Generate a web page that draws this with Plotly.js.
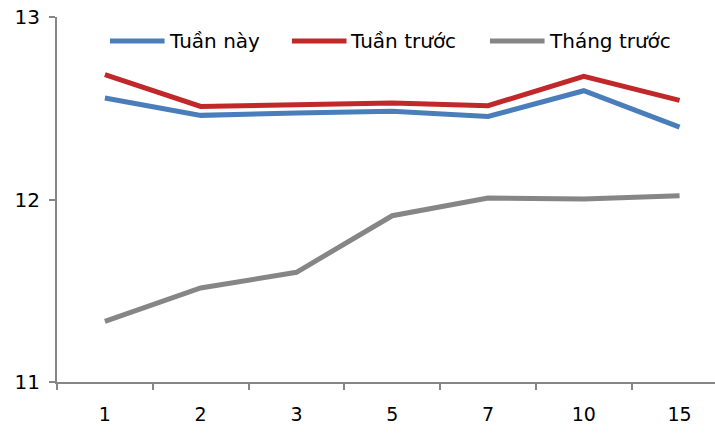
<!DOCTYPE html>
<html><head><meta charset="utf-8">
<script src="https://cdn.plot.ly/plotly-3.0.1.min.js"></script>
<style>html,body{margin:0;padding:0;background:#fff}#chart{width:715px;height:433px}</style>
</head><body><div id="chart"></div>
<script>
const categories = ["1","2","3","5","7","10","15"];
const seriesNames = ["Tuần này", "Tuần trước", "Tháng trước"];
const tuanNay = [12.556, 12.461, 12.474, 12.483, 12.455, 12.596, 12.397];
const tuanTruoc = [12.684, 12.510, 12.519, 12.529, 12.514, 12.675, 12.543];
const thangTruoc = [11.332, 11.515, 11.601, 11.911, 12.008, 12.003, 12.021];
const yTicks = [11, 12, 13];
const colors = ["#4a7ebb", "#c0282a", "#868686"];

const fam = "DejaVu Sans, Verdana, sans-serif";
const mk = (name, y, color) => ({type: "scatter", mode: "lines", name, x: categories, y,
  line: {color, width: 5}, showlegend: false});
const data = [
  mk(seriesNames[0], tuanNay, colors[0]),
  mk(seriesNames[1], tuanTruoc, colors[1]),
  mk(seriesNames[2], thangTruoc, colors[2])
];

// manual legend (long line samples like the original)
const legX = [0.0805, 0.357, 0.658];
const legY = 0.934;
const shapes = legX.map((x0, i) => ({type: "line", xref: "paper", yref: "paper",
  x0, x1: x0 + 0.083, y0: legY, y1: legY, line: {color: colors[i], width: 5}}));
const annotations = legX.map((x0, i) => ({xref: "paper", yref: "paper", x: x0 + 0.086, y: legY,
  xanchor: "left", yanchor: "middle", showarrow: false, text: seriesNames[i],
  font: {family: fam, size: 20, color: "#000"}}));

const layout = {
  width: 715, height: 433,
  margin: {l: 57, r: 0, t: 17, b: 51},
  paper_bgcolor: "#fff", plot_bgcolor: "#fff",
  font: {family: fam, size: 19, color: "#000"},
  showlegend: false,
  shapes, annotations,
  xaxis: {type: "category", categoryorder: "array", categoryarray: categories,
    range: [-0.5, 6.37], showgrid: false, zeroline: false,
    showline: true, linecolor: "#868686", linewidth: 2,
    ticks: "outside", tickson: "boundaries", ticklen: 6, tickcolor: "#868686", tickwidth: 2,
    tickfont: {family: fam, size: 19, color: "#000"}, ticklabelstandoff: 14},
  yaxis: {range: [11, 13], tickvals: yTicks, ticktext: yTicks.map(String),
    showgrid: false, zeroline: false,
    showline: true, linecolor: "#868686", linewidth: 2,
    ticks: "outside", ticklen: 6, tickcolor: "#868686", tickwidth: 2,
    tickfont: {family: fam, size: 20, color: "#000"}, ticklabelstandoff: 5}
};
Plotly.newPlot("chart", data, layout, {displayModeBar: false, staticPlot: true});
</script></body></html>
